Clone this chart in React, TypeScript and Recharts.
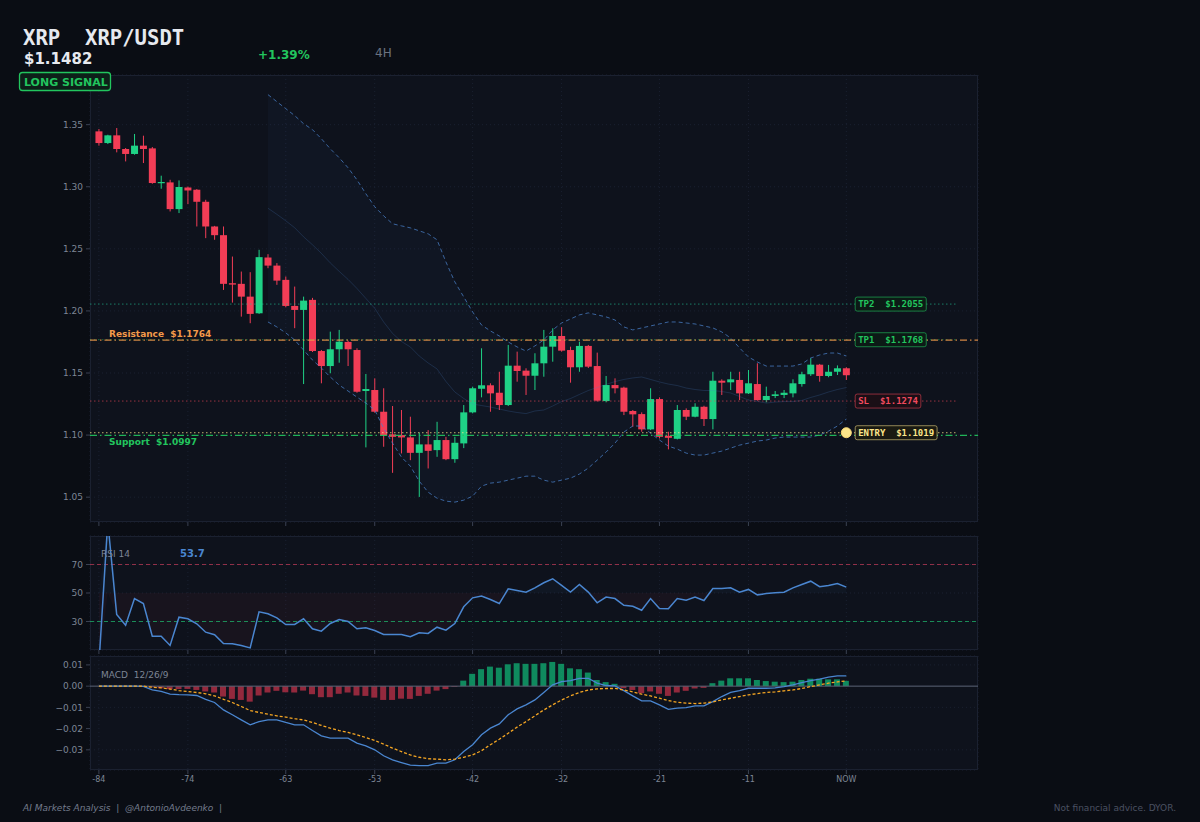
import React from "react";
import {
  Area,
  Bar,
  CartesianGrid,
  Cell,
  ComposedChart,
  Line,
  ReferenceDot,
  ReferenceLine,
  XAxis,
  YAxis,
} from "recharts";

const W = 1200;
const H = 822;
const PLOT_LEFT = 90;
const PLOT_RIGHT = 978;

const X_DOMAIN: [number, number] = [-85, 14.8];
const X_TICKS = [-84, -74, -63, -53, -42, -32, -21, -11, 0];
const PRICE_TICKS = [1.05, 1.1, 1.15, 1.2, 1.25, 1.3, 1.35];
const RSI_TICKS = [30, 50, 70];
const MACD_TICKS = [-0.03, -0.02, -0.01, 0, 0.01];

// 4H candles, oldest first (t = -84 .. 0)
const OPENS = [
  1.3446, 1.3352, 1.3414, 1.3304, 1.3264, 1.3331, 1.3309, 1.3030, 1.3035, 1.2820,
  1.2994, 1.2976, 1.2879, 1.2680, 1.2610, 1.2223, 1.2218, 1.2115, 1.1981, 1.2430,
  1.2365, 1.2250, 1.2040, 1.2008, 1.2089, 1.1677, 1.1556, 1.1691, 1.1750, 1.1685,
  1.1355, 1.1363, 1.1188, 1.1006, 1.1000, 1.0981, 1.0857, 1.0925, 1.0879, 1.0960,
  1.0806, 1.0933, 1.1183, 1.1373, 1.1401, 1.1341, 1.1242, 1.1559, 1.1519, 1.1478,
  1.1578, 1.1712, 1.1798, 1.1685, 1.1546, 1.1718, 1.1556, 1.1274, 1.1403, 1.1382,
  1.1194, 1.1169, 1.1046, 1.1290, 1.0994, 1.0970, 1.1202, 1.1148, 1.1228, 1.1129,
  1.1438, 1.1425, 1.1444, 1.1336, 1.1411, 1.1282, 1.1315, 1.1323, 1.1336, 1.1411,
  1.1490, 1.1567, 1.1476, 1.1510, 1.1538,
];
const HIGHS = [
  1.3465, 1.3419, 1.3473, 1.3312, 1.3425, 1.3411, 1.3320, 1.3089, 1.3056, 1.3051,
  1.3002, 1.2981, 1.2895, 1.2685, 1.2680, 1.2438, 1.2317, 1.2312, 1.2492, 1.2457,
  1.2385, 1.2277, 1.2196, 1.2115, 1.2105, 1.1685, 1.1833, 1.1847, 1.1760, 1.1699,
  1.1492, 1.1457, 1.1377, 1.1234, 1.1202, 1.1148, 1.1019, 1.1040, 1.1107, 1.0986,
  1.0986, 1.1242, 1.1390, 1.1699, 1.1417, 1.1510, 1.1726, 1.1672, 1.1538, 1.1659,
  1.1847, 1.1860, 1.1869, 1.1712, 1.1752, 1.1726, 1.1664, 1.1476, 1.1457, 1.1390,
  1.1202, 1.1183, 1.1377, 1.1304, 1.1027, 1.1242, 1.1215, 1.1256, 1.1236, 1.1510,
  1.1449, 1.1510, 1.1510, 1.1524, 1.1578, 1.1390, 1.1355, 1.1363, 1.1449, 1.1510,
  1.1619, 1.1573, 1.1565, 1.1561, 1.1546,
];
const LOWS = [
  1.3331, 1.3344, 1.3277, 1.3204, 1.3258, 1.3191, 1.3024, 1.2984, 1.2801, 1.2788,
  1.2860, 1.2680, 1.2586, 1.2573, 1.2169, 1.2067, 1.1954, 1.1901, 1.1976, 1.2344,
  1.2210, 1.2030, 1.1861, 1.1411, 1.1669, 1.1417, 1.1498, 1.1583, 1.1556, 1.1341,
  1.0901, 1.1180, 1.0906, 1.0696, 1.0852, 1.0798, 1.0502, 1.0731, 1.0825, 1.0798,
  1.0777, 1.0895, 1.1175, 1.1304, 1.1188, 1.1202, 1.1234, 1.1430, 1.1323, 1.1363,
  1.1470, 1.1591, 1.1672, 1.1422, 1.1510, 1.1540, 1.1269, 1.1264, 1.1336, 1.1161,
  1.1067, 1.1027, 1.1040, 1.0973, 1.0885, 1.0965, 1.1121, 1.1143, 1.1073, 1.1046,
  1.1323, 1.1363, 1.1282, 1.1331, 1.1277, 1.1264, 1.1298, 1.1298, 1.1304, 1.1390,
  1.1476, 1.1430, 1.1466, 1.1484, 1.1444,
];
const CLOSES = [
  1.3352, 1.3414, 1.3304, 1.3264, 1.3331, 1.3304, 1.3030, 1.3038, 1.2820, 1.2998,
  1.2970, 1.2879, 1.2680, 1.2610, 1.2218, 1.2212, 1.2115, 1.1976, 1.2433, 1.2365,
  1.2244, 1.2040, 1.2008, 1.2083, 1.1677, 1.1556, 1.1691, 1.1752, 1.1691, 1.1349,
  1.1371, 1.1188, 1.1000, 1.0986, 1.0981, 1.0857, 1.0925, 1.0873, 1.0960, 1.0806,
  1.0938, 1.1183, 1.1377, 1.1401, 1.1336, 1.1242, 1.1559, 1.1516, 1.1478, 1.1578,
  1.1712, 1.1798, 1.1680, 1.1546, 1.1718, 1.1551, 1.1277, 1.1403, 1.1377, 1.1188,
  1.1167, 1.1046, 1.1290, 1.0986, 1.0978, 1.1202, 1.1148, 1.1228, 1.1129, 1.1438,
  1.1422, 1.1449, 1.1336, 1.1417, 1.1282, 1.1315, 1.1328, 1.1341, 1.1417, 1.1490,
  1.1567, 1.1476, 1.1510, 1.1538, 1.1482,
];

// Bollinger bands (20), t = -65 .. 0
const BB_START = -65;
const BB_UPPER = [
  1.3742, 1.3685, 1.3629, 1.3573, 1.3508, 1.3460, 1.3387, 1.3306, 1.3234, 1.3153,
  1.3056, 1.2944, 1.2839, 1.2766, 1.2702, 1.2685, 1.2669, 1.2645, 1.2621, 1.2573,
  1.2395, 1.2234, 1.2113, 1.1992, 1.1887, 1.1839, 1.1798, 1.1750, 1.1710, 1.1677,
  1.1718, 1.1766, 1.1847, 1.1903, 1.1935, 1.1968, 1.1984, 1.1968, 1.1952, 1.1927,
  1.1871, 1.1847, 1.1863, 1.1879, 1.1895, 1.1911, 1.1911, 1.1903, 1.1895, 1.1879,
  1.1863, 1.1831, 1.1782, 1.1702, 1.1629, 1.1589, 1.1556, 1.1556, 1.1556, 1.1556,
  1.1573, 1.1621, 1.1645, 1.1661, 1.1661, 1.1637,
];
const BB_LOWER = [
  1.1911, 1.1871, 1.1823, 1.1766, 1.1685, 1.1605, 1.1540, 1.1468, 1.1403, 1.1355,
  1.1306, 1.1258, 1.1202, 1.1056, 1.0935, 1.0823, 1.0750, 1.0629, 1.0540, 1.0492,
  1.0468, 1.0460, 1.0476, 1.0508, 1.0589, 1.0613, 1.0621, 1.0637, 1.0653, 1.0669,
  1.0669, 1.0637, 1.0621, 1.0637, 1.0653, 1.0686, 1.0734, 1.0798, 1.0863, 1.0935,
  1.1024, 1.1073, 1.1073, 1.1016, 1.0960, 1.0911, 1.0887, 1.0855, 1.0839, 1.0839,
  1.0855, 1.0871, 1.0895, 1.0919, 1.0935, 1.0952, 1.0960, 1.0976, 1.0984, 1.0984,
  1.0984, 1.0984, 1.1000, 1.1032, 1.1073, 1.1129,
];
const BB_MID = [
  1.2827, 1.2778, 1.2726, 1.2670, 1.2597, 1.2533, 1.2464, 1.2387, 1.2319, 1.2254,
  1.2181, 1.2101, 1.2021, 1.1911, 1.1819, 1.1754, 1.1710, 1.1637, 1.1581, 1.1533,
  1.1432, 1.1347, 1.1295, 1.1250, 1.1238, 1.1226, 1.1210, 1.1194, 1.1182, 1.1173,
  1.1194, 1.1202, 1.1234, 1.1270, 1.1294, 1.1327, 1.1359, 1.1383, 1.1408, 1.1431,
  1.1448, 1.1460, 1.1468, 1.1448, 1.1428, 1.1411, 1.1399, 1.1379, 1.1367, 1.1359,
  1.1359, 1.1351, 1.1339, 1.1311, 1.1282, 1.1271, 1.1258, 1.1266, 1.1270, 1.1270,
  1.1279, 1.1303, 1.1323, 1.1347, 1.1367, 1.1383,
];

const RSI = [
  0, 100, 34.9, 27.4, 46.1, 42.6, 19.7, 19.7, 13.2, 33.0,
  31.9, 28.4, 22.5, 20.7, 14.6, 14.4, 13.2, 11.5, 36.8, 35.4,
  32.6, 27.9, 27.9, 31.9, 24.9, 23.2, 28.6, 31.4, 30.0, 24.9,
  25.6, 23.7, 20.9, 20.9, 20.9, 19.3, 22.1, 21.6, 26.0, 23.9,
  28.6, 40.3, 46.6, 47.8, 45.4, 42.6, 52.9, 51.8, 50.6, 53.6,
  57.2, 60.0, 55.3, 50.6, 56.0, 50.6, 43.1, 47.1, 46.1, 41.4,
  40.7, 37.9, 46.1, 39.1, 38.9, 46.1, 44.9, 47.1, 44.7, 53.2,
  53.2, 53.6, 50.6, 52.5, 48.7, 49.6, 50.1, 50.6, 53.6, 56.0,
  58.3, 54.4, 55.3, 56.7, 54.1,
];

const MACD = [
  0, 0, 0, 0, 0, -0.0001, -0.0018, -0.0025, -0.0038, -0.0040,
  -0.0041, -0.0044, -0.0062, -0.0077, -0.0112, -0.0135, -0.0159, -0.0182, -0.0167, -0.0159,
  -0.0159, -0.0171, -0.0182, -0.0182, -0.0209, -0.0234, -0.0245, -0.0245, -0.0245, -0.0268,
  -0.0281, -0.0300, -0.0328, -0.0347, -0.0360, -0.0372, -0.0374, -0.0374, -0.0363, -0.0363,
  -0.0347, -0.0308, -0.0276, -0.0229, -0.0198, -0.0178, -0.0135, -0.0107, -0.0088, -0.0065,
  -0.0030, 0.0006, 0.0021, 0.0026, 0.0037, 0.0037, 0.0014, 0.0003, 0.0001, -0.0021,
  -0.0046, -0.0069, -0.0069, -0.0088, -0.0109, -0.0104, -0.0101, -0.0093, -0.0093, -0.0073,
  -0.0049, -0.0029, -0.0021, -0.0010, -0.0010, -0.0010, -0.0008, -0.0002, 0.0006, 0.0017,
  0.0026, 0.0033, 0.0042, 0.0048, 0.0048,
];
const SIGNAL = [
  0, 0, 0, 0, 0, 0, -0.0005, -0.0008, -0.0014, -0.0021,
  -0.0025, -0.0030, -0.0036, -0.0046, -0.0062, -0.0077, -0.0096, -0.0115, -0.0124, -0.0132,
  -0.0140, -0.0146, -0.0153, -0.0159, -0.0171, -0.0185, -0.0198, -0.0209, -0.0218, -0.0229,
  -0.0242, -0.0256, -0.0273, -0.0292, -0.0308, -0.0324, -0.0335, -0.0342, -0.0344, -0.0347,
  -0.0344, -0.0335, -0.0324, -0.0304, -0.0276, -0.0250, -0.0222, -0.0193, -0.0167, -0.0140,
  -0.0112, -0.0088, -0.0065, -0.0046, -0.0030, -0.0018, -0.0013, -0.0011, -0.0011, -0.0018,
  -0.0027, -0.0038, -0.0046, -0.0057, -0.0068, -0.0076, -0.0080, -0.0082, -0.0080, -0.0074,
  -0.0065, -0.0057, -0.0049, -0.0041, -0.0035, -0.0030, -0.0027, -0.0022, -0.0018, -0.0011,
  -0.0002, 0.0006, 0.0014, 0.0020, 0.0025,
];
const HIST = [
  0, 0, 0, 0, 0, 0, -0.0005, -0.0010, -0.0014, -0.0014,
  -0.0013, -0.0018, -0.0025, -0.0030, -0.0049, -0.0060, -0.0065, -0.0073, -0.0044, -0.0030,
  -0.0022, -0.0029, -0.0030, -0.0021, -0.0038, -0.0052, -0.0052, -0.0036, -0.0030, -0.0044,
  -0.0046, -0.0054, -0.0065, -0.0065, -0.0059, -0.0060, -0.0046, -0.0036, -0.0021, -0.0014,
  -0.0003, 0.0026, 0.0058, 0.0080, 0.0092, 0.0087, 0.0103, 0.0108, 0.0105, 0.0105,
  0.0108, 0.0114, 0.0105, 0.0084, 0.0080, 0.0064, 0.0029, 0.0019, 0.0011, -0.0010,
  -0.0018, -0.0033, -0.0025, -0.0036, -0.0046, -0.0030, -0.0022, -0.0011, -0.0008, 0.0014,
  0.0026, 0.0037, 0.0037, 0.0037, 0.0029, 0.0024, 0.0021, 0.0019, 0.0021, 0.0029,
  0.0035, 0.0035, 0.0032, 0.0032, 0.0025,
];

const RESISTANCE = 1.1764;
const SUPPORT = 1.0997;
const TP2 = 1.2055;
const TP1 = 1.1768;
const SL = 1.1274;
const ENTRY = 1.1019;

const BG = "#0a0d14";
const PANEL = "#0e121c";
const BORDER = "#1b2130";
const GRID = "#1a2030";
const TICK = "#7d8595";
const UP = "#1fd286";
const DOWN = "#f23d56";
const GREEN = "#22c55e";
const ORANGE = "#f39a4a";
const BLUE = "#4a86d0";
const FONT = '"DejaVu Sans", sans-serif';
const MONO = '"DejaVu Sans Mono", monospace';

const priceRows = OPENS.map((open, i) => {
  const t = i - 84;
  const b = t - BB_START;
  const has = b >= 0;
  return {
    t,
    open,
    high: HIGHS[i],
    low: LOWS[i],
    close: CLOSES[i],
    range: [LOWS[i], HIGHS[i]],
    upper: has ? BB_UPPER[b] : null,
    lower: has ? BB_LOWER[b] : null,
    mid: has ? BB_MID[b] : null,
    band: has ? [BB_LOWER[b], BB_UPPER[b]] : null,
  };
});

const rsiRows = RSI.map((v, i) => ({
  t: i - 84,
  rsi: v,
  lo: [Math.min(v, 50), 50],
  hi: [50, Math.max(v, 50)],
}));

const macdRows = MACD.map((v, i) => ({
  t: i - 84,
  macd: v,
  signal: SIGNAL[i],
  hist: HIST[i],
}));

const tickStyle = { fill: TICK, fontSize: 9, fontFamily: FONT };

function Candle(props: any) {
  const { x, y, width, height, payload } = props;
  if (x == null || y == null) return null;
  const { open, close, high, low } = payload;
  const top = Math.min(y, y + height);
  const h = Math.abs(height);
  const py = (v: number) => top + ((high - v) / (high - low)) * h;
  const color = close >= open ? UP : DOWN;
  const bTop = py(Math.max(open, close));
  const bBot = py(Math.min(open, close));
  const cx = x + width / 2;
  return (
    <g>
      <line x1={cx} x2={cx} y1={top} y2={top + h} stroke={color} strokeWidth={1} />
      <rect x={x} y={bTop} width={width} height={Math.max(bBot - bTop, 1.2)} fill={color} />
    </g>
  );
}

function Tag({ cx, cy, text, color, border, fill }: any) {
  const w = text.length * 5.42 + 6;
  return (
    <g>
      <rect x={cx} y={cy - 7} width={w} height={14} rx={2} fill={fill} stroke={border} strokeWidth={1} />
      <text
        x={cx + 3}
        y={cy + 3.3}
        fill={color}
        fontSize={9}
        fontWeight="bold"
        fontFamily={MONO}
        style={{ whiteSpace: "pre" }}
      >
        {text}
      </text>
    </g>
  );
}

function LevelText({ cx, cy, text, color, dy }: any) {
  return (
    <text
      x={cx + 19}
      y={cy + dy}
      fill={color}
      fontSize={9}
      fontWeight="bold"
      fontFamily={FONT}
      style={{ whiteSpace: "pre" }}
    >
      {text}
    </text>
  );
}

function Panel({ top, height }: { top: number; height: number }) {
  return (
    <div
      style={{
        position: "absolute",
        left: PLOT_LEFT,
        top,
        width: PLOT_RIGHT - PLOT_LEFT,
        height,
        background: PANEL,
        boxSizing: "border-box",
        border: `1px solid ${BORDER}`,
      }}
    />
  );
}

const chartBox = (top: number): React.CSSProperties => ({ position: "absolute", left: 0, top });

export default function App() {
  const margin = (top: number) => ({ top, right: W - PLOT_RIGHT, bottom: 0, left: PLOT_LEFT - 40 });

  return (
    <div
      style={{
        position: "absolute",
        left: 0,
        top: 0,
        width: W,
        height: H,
        background: BG,
        overflow: "hidden",
        fontFamily: FONT,
      }}
    >
      <Panel top={75} height={447} />
      <Panel top={536} height={114} />
      <Panel top={656} height={114} />

      {/* price panel */}
      <div style={chartBox(0)}>
        <ComposedChart width={W} height={532} data={priceRows} margin={margin(75)}>
          <CartesianGrid stroke={GRID} strokeDasharray="1 3" />
          <XAxis
            dataKey="t"
            type="number"
            domain={X_DOMAIN}
            ticks={X_TICKS}
            allowDataOverflow
            height={10}
            tickSize={4}
            axisLine={false}
            tickLine={{ stroke: "#3a4152" }}
            tickFormatter={() => ""}
          />
          <YAxis
            type="number"
            domain={[1.03, 1.39]}
            ticks={PRICE_TICKS}
            allowDataOverflow
            width={40}
            tickSize={4}
            tickMargin={3}
            axisLine={false}
            tickLine={{ stroke: "#3a4152" }}
            tick={tickStyle}
            tickFormatter={(v: number) => v.toFixed(2)}
          />
          <Area
            type="linear"
            dataKey="band"
            stroke="none"
            fill="rgba(70,120,200,0.07)"
            isAnimationActive={false}
            dot={false}
            activeDot={false}
          />
          <Line type="linear" dataKey="mid" stroke="rgba(74,128,200,0.22)" strokeWidth={1} dot={false} activeDot={false} isAnimationActive={false} />
          <Line type="linear" dataKey="upper" stroke="rgba(74,128,200,0.75)" strokeWidth={1} strokeDasharray="4 3" dot={false} activeDot={false} isAnimationActive={false} />
          <Line type="linear" dataKey="lower" stroke="rgba(74,128,200,0.75)" strokeWidth={1} strokeDasharray="4 3" dot={false} activeDot={false} isAnimationActive={false} />

          <ReferenceLine segment={[{ x: -85, y: TP2 }, { x: 12.3, y: TP2 }]} stroke="rgba(34,197,150,0.6)" strokeDasharray="1.5 2.5" strokeWidth={1} />
          <ReferenceLine segment={[{ x: -85, y: TP1 }, { x: 12.3, y: TP1 }]} stroke="rgba(34,197,94,0.5)" strokeDasharray="1.5 2.5" strokeWidth={1} />
          <ReferenceLine y={RESISTANCE} stroke={ORANGE} strokeOpacity={0.85} strokeDasharray="7 3 1.5 3" strokeWidth={1.3} />
          <ReferenceLine segment={[{ x: -85, y: SL }, { x: 12.3, y: SL }]} stroke="rgba(240,70,90,0.6)" strokeDasharray="1.5 2.5" strokeWidth={1} />
          <ReferenceLine segment={[{ x: -85, y: ENTRY }, { x: 12.3, y: ENTRY }]} stroke="rgba(253,230,138,0.75)" strokeDasharray="1.5 2.5" strokeWidth={1} />
          <ReferenceLine y={SUPPORT} stroke={GREEN} strokeOpacity={0.9} strokeDasharray="7 3 1.5 3" strokeWidth={1.3} />

          <Bar dataKey="range" barSize={7} shape={<Candle />} isAnimationActive={false} />

          <ReferenceDot x={-85} y={RESISTANCE} r={0} ifOverflow="visible"
            shape={(p: any) => <LevelText cx={p.cx} cy={p.cy} dy={-3.5} color={ORANGE} text={"Resistance  $1.1764"} />} />
          <ReferenceDot x={-85} y={SUPPORT} r={0} ifOverflow="visible"
            shape={(p: any) => <LevelText cx={p.cx} cy={p.cy} dy={10} color={GREEN} text={"Support  $1.0997"} />} />
          <ReferenceDot x={1} y={TP2} r={0} ifOverflow="visible"
            shape={(p: any) => <Tag cx={p.cx} cy={p.cy} text={"TP2  $1.2055"} color={GREEN} border="rgba(34,197,94,0.6)" fill="#0c1a16" />} />
          <ReferenceDot x={1} y={TP1} r={0} ifOverflow="visible"
            shape={(p: any) => <Tag cx={p.cx} cy={p.cy} text={"TP1  $1.1768"} color={GREEN} border="rgba(34,197,94,0.6)" fill="#0c1a16" />} />
          <ReferenceDot x={1} y={SL} r={0} ifOverflow="visible"
            shape={(p: any) => <Tag cx={p.cx} cy={p.cy} text={"SL  $1.1274"} color="#f04a5e" border="rgba(240,70,90,0.55)" fill="#1a0f16" />} />
          <ReferenceDot x={1} y={ENTRY} r={0} ifOverflow="visible"
            shape={(p: any) => <Tag cx={p.cx} cy={p.cy} text={"ENTRY  $1.1019"} color="#fde68a" border="rgba(253,230,138,0.55)" fill="#1a1a12" />} />
          <ReferenceDot x={0} y={ENTRY} r={5} fill="#fde68a" stroke="#f7d774" strokeWidth={1} ifOverflow="visible" />
        </ComposedChart>
      </div>

      {/* RSI panel */}
      <div style={chartBox(530)}>
        <ComposedChart width={W} height={130} data={rsiRows} margin={margin(6)}>
          <CartesianGrid stroke={GRID} strokeDasharray="1 3" />
          <XAxis
            dataKey="t"
            type="number"
            domain={X_DOMAIN}
            ticks={X_TICKS}
            allowDataOverflow
            height={10}
            tickSize={4}
            axisLine={false}
            tickLine={{ stroke: "#3a4152" }}
            tickFormatter={() => ""}
          />
          <YAxis
            type="number"
            domain={[10, 90]}
            ticks={RSI_TICKS}
            allowDataOverflow
            width={40}
            tickSize={4}
            tickMargin={3}
            axisLine={false}
            tickLine={{ stroke: "#3a4152" }}
            tick={tickStyle}
          />
          <Area type="linear" dataKey="lo" stroke="none" fill="rgba(200,50,80,0.09)" isAnimationActive={false} dot={false} activeDot={false} />
          <Area type="linear" dataKey="hi" stroke="none" fill="rgba(74,128,200,0.07)" isAnimationActive={false} dot={false} activeDot={false} />
          <ReferenceLine y={70} stroke="rgba(200,60,90,0.7)" strokeDasharray="4 3" strokeWidth={1} />
          <ReferenceLine y={30} stroke="rgba(30,180,105,0.75)" strokeDasharray="4 3" strokeWidth={1} />
          <Line type="linear" dataKey="rsi" stroke={BLUE} strokeWidth={1.5} dot={false} activeDot={false} isAnimationActive={false} />
        </ComposedChart>
      </div>

      {/* MACD panel */}
      <div style={chartBox(650)}>
        <ComposedChart width={W} height={144} data={macdRows} margin={margin(6)}>
          <CartesianGrid stroke={GRID} strokeDasharray="1 3" />
          <XAxis
            dataKey="t"
            type="number"
            domain={X_DOMAIN}
            ticks={X_TICKS}
            allowDataOverflow
            height={24}
            tickSize={4}
            tickMargin={2}
            axisLine={false}
            tickLine={{ stroke: "#3a4152" }}
            tick={{ ...tickStyle, fontSize: 8 }}
            tickFormatter={(v: number) => (v === 0 ? "NOW" : String(v))}
          />
          <YAxis
            type="number"
            domain={[-0.0395, 0.0142]}
            ticks={MACD_TICKS}
            allowDataOverflow
            width={40}
            tickSize={4}
            tickMargin={3}
            axisLine={false}
            tickLine={{ stroke: "#3a4152" }}
            tick={tickStyle}
            tickFormatter={(v: number) => (v < 0 ? "\u2212" : "") + Math.abs(v).toFixed(2)}
          />
          <Bar dataKey="hist" barSize={6} isAnimationActive={false}>
            {macdRows.map((r) => (
              <Cell key={r.t} fill={r.hist >= 0 ? "rgba(16,185,120,0.72)" : "rgba(200,50,75,0.72)"} />
            ))}
          </Bar>
          <ReferenceLine y={0} stroke="#5b6475" strokeWidth={1} />
          <Line type="linear" dataKey="macd" stroke={BLUE} strokeWidth={1.3} dot={false} activeDot={false} isAnimationActive={false} />
          <Line type="linear" dataKey="signal" stroke="#f5a623" strokeWidth={1.3} strokeDasharray="3 2" dot={false} activeDot={false} isAnimationActive={false} />
        </ComposedChart>
      </div>

      {/* header, panel labels, footer */}
      <svg width={W} height={H} style={{ position: "absolute", left: 0, top: 0, pointerEvents: "none" }}>
        <text x={23} y={45} fill="#e6e9ef" fontSize={20.6} fontWeight="bold" fontFamily={MONO} style={{ whiteSpace: "pre" }}>
          {"XRP  XRP/USDT"}
        </text>
        <text x={24} y={64} fill="#e6e9ef" fontSize={15} fontWeight="bold" fontFamily={FONT}>
          $1.1482
        </text>
        <text x={258} y={59} fill={GREEN} fontSize={12} fontWeight="bold" fontFamily={FONT}>
          +1.39%
        </text>
        <text x={375} y={57} fill="#6b7280" fontSize={12} fontFamily={FONT}>
          4H
        </text>
        <rect x={19.5} y={72.5} width={91} height={18} rx={3} fill="#0d2019" stroke={GREEN} strokeWidth={1.3} />
        <text x={24} y={85.5} fill={GREEN} fontSize={11} fontWeight="bold" fontFamily={FONT}>
          LONG SIGNAL
        </text>

        <text x={101} y={557} fill={TICK} fontSize={9} fontFamily={FONT}>
          RSI 14
        </text>
        <text x={180} y={557} fill={BLUE} fontSize={10} fontWeight="bold" fontFamily={FONT}>
          53.7
        </text>
        <text x={101} y={678} fill={TICK} fontSize={9} fontFamily={FONT} style={{ whiteSpace: "pre" }}>
          {"MACD  12/26/9"}
        </text>

        <text x={23} y={811} fill="#737b8c" fontSize={9} fontStyle="italic" fontFamily={FONT} style={{ whiteSpace: "pre" }}>
          {"AI Markets Analysis  |  @AntonioAvdeenko  |"}
        </text>
        <text x={1176} y={811} fill="#4a5162" fontSize={9} textAnchor="end" fontFamily={FONT}>
          Not financial advice. DYOR.
        </text>
      </svg>
    </div>
  );
}
